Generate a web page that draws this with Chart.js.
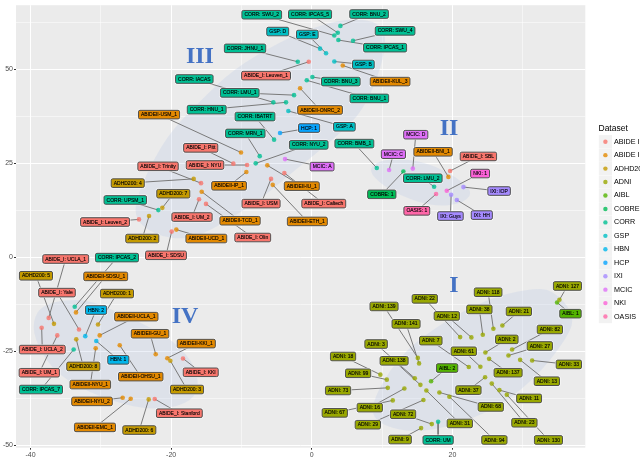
<!DOCTYPE html>
<html>
<head>
<meta charset="utf-8">
<script src="https://cdn.jsdelivr.net/npm/chart.js@4"></script>
<style>
  html, body { margin: 0; padding: 0; background: #fff; }
  #wrap { width: 640px; height: 457px; position: relative; overflow: hidden; }
</style>
</head>
<body>
<div id="wrap"><canvas id="tsne"></canvas></div>
<script>
var datasetNames = ['ABIDE I','ABIDE II','ADHD200','ADNI','AIBL','COBRE','CORR','GSP','HBN','HCP','IXI','MCIC','NKI','OASIS'];
var datasetColors = ['#F8766D','#E38900','#C49A00','#99A800','#53B400','#00BC56','#00C094','#00BFC4','#00B6EB','#06A4FF','#A58AFF','#DF70F8','#FB61D7','#FF66A8'];

var xTicks = [-40,-30,-20,-10,0,10,20,30];
var yTicks = [-50,-37.5,-25,-12.5,0,12.5,25,37.5,50,62.5];
var majorX = [-40,-20,0,20];
var majorY = [-50,-25,0,25,50];

// cluster III, II, IV, I
var sampleNames = [
  'CORR: SWU_2','CORR: IPCAS_5','CORR: BNU_2','CORR: SWU_4','CORR: IPCAS_1','GSP: D','GSP: E','CORR: JHNU_1','ABIDE_I: Leuven_1','GSP: B','ABIDEII-KUL_3','CORR: BNU_3','CORR: BNU_1','ABIDEII-ONRC_2','GSP: A','HCP: 1','CORR: IACAS','CORR: LMU_1','CORR: HNU_1','ABIDEII-USM_1','CORR: IBATRT','CORR: MRN_1','CORR: NYU_2','MCIC: A','ABIDE_I: Pitt','ABIDE_I: NYU','ABIDE_I: Trinity','ADHD200: 4','ADHD200: 7','CORR: UPSM_1','ABIDE_I: Leuven_2','ABIDEII-IP_1','ABIDEII-IU_1','ABIDE_I: Caltech','ABIDE_I: USM','ABIDEII-ETH_1','ABIDE_I: UM_2','ABIDEII-TCD_1','ABIDE_I: Olin','ADHD200: 2','ABIDEII-UCD_1','ABIDE_I: SDSU',
  'CORR: BMB_1','MCIC: D','MCIC: C','ABIDEII-BNI_1','ABIDE_I: SBL','NKI: 1','IXI: IOP','COBRE: 1','CORR: LMU_2','OASIS: 1','IXI: Guys','IXI: HH',
  'ABIDE_I: UCLA_1','CORR: IPCAS_2','ABIDEII-SDSU_1','ADHD200: 5','ABIDE_I: Yale','ADHD200: 1','HBN: 2','ABIDEII-UCLA_1','ABIDEII-GU_1','ABIDEII-KKI_1','ABIDE_I: KKI','ADHD200: 3','ABIDEII-OHSU_1','HBN: 1','ADHD200: 8','ABIDEII-NYU_1','ABIDE_I: UCLA_2','ABIDE_I: UM_1','CORR: IPCAS_7','ABIDEII-NYU_2','ABIDEII-EMC_1','ADHD200: 6','ABIDE_I: Stanford',
  'ADNI: 127','AIBL: 1','ADNI: 118','ADNI: 38','ADNI: 21','ADNI: 22','ADNI: 12','ADNI: 139','ADNI: 141','ADNI: 82','ADNI: 2','ADNI: 27','ADNI: 7','ADNI: 61','ADNI: 3','ADNI: 138','ADNI: 137','ADNI: 13','ADNI: 33','ADNI: 18','ADNI: 99','ADNI: 73','AIBL: 2','ADNI: 37','ADNI: 11','ADNI: 68','ADNI: 16','ADNI: 67','ADNI: 72','ADNI: 29','ADNI: 31','ADNI: 23','ADNI: 9','CORR: UM','ADNI: 94','ADNI: 130'
];
var pointX = [
  3.21,3.70,4.07,5.87,3.78,1.18,2.03,-1.99,-0.43,3.21,4.41,0.09,-0.71,-1.66,-3.33,-4.51,-5.46,-2.52,-3.66,-10.06,-5.36,-7.40,-7.97,-3.80,-11.15,-9.20,-15.75,-16.79,-21.25,-21.82,-24.57,-9.30,-6.32,-3.90,-5.79,-5.55,-16.03,-15.65,-15.04,-23.14,-19.26,-19.92,
  9.25,14.37,11.00,19.43,19.67,19.20,21.57,13.03,17.40,17.68,19.82,20.63,
  -37.41,-33.71,-33.53,-36.66,-33.10,-30.40,-32.21,-30.16,-22.19,-20.54,-18.31,-20.11,-27.31,-30.64,-33.49,-30.73,-38.41,-36.19,-33.86,-26.89,-25.75,-23.19,-22.33,
  35.22,34.89,25.83,24.32,27.11,21.10,22.70,15.08,15.26,28.49,24.69,27.97,22.33,23.98,14.65,15.45,25.22,29.63,31.34,9.76,10.67,10.81,16.97,24.65,26.69,18.15,13.17,11.52,17.07,15.88,16.30,25.60,15.55,17.97,19.57,27.74
];
var pointY = [
  58.95,59.66,61.50,57.55,57.74,55.45,54.22,51.96,51.96,52.03,50.98,47.91,47.04,44.94,38.89,33.03,41.18,43.10,41.18,27.86,31.27,26.88,24.97,26.10,24.89,24.52,19.71,20.84,13.14,12.54,10.07,22.68,24.44,22.42,20.84,19.26,15.43,17.42,14.19,10.96,7.36,6.83,
  23.73,23.57,23.21,21.37,22.94,17.69,18.66,22.78,18.74,16.82,16.64,15.24,
  -16.11,-13.14,-14.64,-17.69,-19.18,-17.87,-20.95,-20.76,-25.75,-26.81,-26.88,-27.51,-23.39,-22.26,-21.81,-24.18,-18.74,-20.76,-24.52,-37.32,-37.58,-37.76,-37.66,
  -11.30,-12.01,-19.00,-20.58,-18.13,-21.21,-21.29,-26.73,-28.20,-24.52,-25.31,-26.10,-29.17,-29.09,-32.14,-33.90,-26.99,-27.25,-27.41,-31.19,-32.51,-34.69,-32.93,-31.88,-35.29,-35.92,-34.87,-38.03,-44.33,-37.92,-35.40,-33.56,-45.39,-43.70,-37.05,-36.53
];
var labelX = [
  -7.11,-0.24,8.15,11.85,10.43,-4.84,-0.63,-9.49,-6.50,7.34,11.14,4.13,8.19,1.18,4.64,-0.38,-16.70,-10.24,-14.94,-21.72,-8.07,-9.45,-0.43,1.47,-15.79,-15.18,-21.86,-26.17,-19.69,-26.52,-29.40,-11.76,-1.42,1.71,-7.21,-0.63,-17.03,-10.20,-8.39,-24.10,-14.99,-20.73,
  6.06,14.79,11.61,17.25,23.70,23.94,26.64,9.96,15.79,14.94,19.72,24.18,
  -34.99,-27.70,-29.30,-39.22,-36.23,-27.70,-30.68,-24.95,-23.00,-16.42,-15.79,-17.74,-24.32,-27.51,-32.49,-31.49,-38.32,-38.75,-38.51,-31.25,-30.83,-24.52,-18.83,
  36.36,36.79,25.08,23.84,29.45,16.07,19.20,10.28,13.41,33.86,27.74,32.43,16.93,21.62,9.15,11.71,27.92,33.43,36.56,4.45,6.59,3.74,19.25,22.28,30.91,25.46,8.25,3.27,12.99,7.97,21.05,30.24,12.56,17.97,25.97,33.66
];
var labelY = [
  64.47,64.57,64.65,60.18,55.71,60.00,59.21,55.53,48.28,51.25,46.70,46.70,42.23,39.16,34.69,34.35,47.38,43.70,39.24,37.92,37.40,32.93,29.88,24.10,29.09,24.52,24.18,19.71,16.90,15.24,9.38,19.00,18.92,14.27,14.27,9.54,10.70,9.72,5.26,4.99,4.99,0.53,
  30.22,32.59,27.41,28.04,26.81,22.26,17.61,16.74,21.02,12.35,10.96,11.22,
  -0.45,-0.08,-5.07,-4.91,-9.38,-9.64,-14.01,-15.77,-20.31,-22.94,-30.56,-35.14,-31.72,-27.25,-28.99,-33.82,-24.52,-30.67,-35.14,-38.29,-45.20,-45.91,-41.44,
  -7.62,-14.98,-9.28,-13.85,-14.38,-11.04,-15.58,-13.06,-17.69,-19.18,-21.81,-23.57,-22.15,-24.97,-23.05,-27.51,-30.67,-32.93,-28.46,-26.36,-30.83,-35.40,-29.43,-35.29,-37.50,-39.76,-39.95,-41.34,-41.71,-44.49,-44.15,-43.97,-48.43,-48.54,-48.54,-48.54
];

// shaded regions behind the clusters, as x,y outlines
var blobOne = [[34.33,-8.41],[37.45,-15.5],[36.32,-21.55],[31.48,-32.85],[24.94,-41.79],[15.41,-47.04],[9.29,-44.41],[8.29,-39.16],[12.13,-26.81],[17.82,-18.13],[24.94,-11.04],[30.63,-8.41]];
var blobTwo = [[8.0,23.65],[10.43,26.28],[15.41,25.75],[19.67,22.34],[22.94,17.87],[21.8,14.45],[17.54,13.4],[12.56,16.29],[9.29,20.24]];
var blobThree = [[-25.56,11.04],[-24.0,20.5],[-20.58,32.32],[-16.32,40.73],[-11.2,49.93],[-4.51,57.29],[1.18,61.76],[5.87,63.6],[9.72,62.28],[10.71,57.82],[9.43,47.83],[7.16,38.89],[4.45,33.64],[1.18,28.38],[-2.09,23.65],[-7.07,15.77],[-13.04,8.41],[-17.74,4.47],[-22.57,6.04]];
var blobFour = [[-39.79,-17.08],[-38.22,-12.35],[-32.53,-10.77],[-27.7,-14.45],[-20.58,-20.76],[-16.88,-27.59],[-15.89,-34.69],[-17.74,-39.16],[-23.0,-40.73],[-30.11,-37.32],[-36.23,-31.27],[-39.08,-23.39]];

var clusterNames = ['I','II','III','IV'];
var clusterX = [20.23,19.53,-15.9,-18.02];
var clusterY = [-7.62,34.16,53.35,-15.77];

function groupOf(name) {
  if (name.indexOf('ABIDE_I:') === 0) return 'ABIDE I';
  if (name.indexOf('ABIDEII') === 0) return 'ABIDE II';
  return name.split(':')[0];
}

var datasets = [];
datasetNames.forEach(function(group, g) {
  var pts = [];
  sampleNames.forEach(function(name, i) {
    if (groupOf(name) === group) pts.push({x: pointX[i], y: pointY[i]});
  });
  datasets.push({
    label: group,
    data: pts,
    backgroundColor: datasetColors[g] + 'CC',
    borderWidth: 0,
    pointRadius: 2.3,
    order: 1
  });
});

var segments = [];
sampleNames.forEach(function(name, i) {
  segments.push({x: pointX[i], y: pointY[i]});
  segments.push({x: labelX[i], y: labelY[i]});
  segments.push({x: null, y: null});
});
datasets.push({
  type: 'line',
  label: 'connectors',
  data: segments,
  borderColor: '#7a7a7a',
  borderWidth: 1,
  pointRadius: 0,
  spanGaps: false,
  order: 2
});

function drawBlob(ctx, chart, outline) {
  var sx = chart.scales.x, sy = chart.scales.y;
  var p = outline.map(function(o) { return [sx.getPixelForValue(o[0]), sy.getPixelForValue(o[1])]; });
  var n = p.length;
  ctx.beginPath();
  ctx.moveTo((p[n-1][0] + p[0][0]) / 2, (p[n-1][1] + p[0][1]) / 2);
  for (var i = 0; i < n; i++) {
    var q = p[(i + 1) % n];
    ctx.quadraticCurveTo(p[i][0], p[i][1], (p[i][0] + q[0]) / 2, (p[i][1] + q[1]) / 2);
  }
  ctx.closePath();
  ctx.fill();
}

var blobPlugin = {
  id: 'blobs',
  beforeDraw: function(chart) {
    var a = chart.chartArea;
    chart.ctx.fillStyle = '#ebebeb';
    chart.ctx.fillRect(a.left, a.top, a.right - a.left, a.bottom - a.top);
  },
  beforeDatasetsDraw: function(chart) {
    var ctx = chart.ctx;
    ctx.save();
    ctx.fillStyle = 'rgba(185,200,230,0.27)';
    [blobOne, blobTwo, blobThree, blobFour].forEach(function(b) { drawBlob(ctx, chart, b); });
    ctx.restore();
  }
};

var labelPlugin = {
  id: 'sampleLabels',
  afterDatasetsDraw: function(chart) {
    var ctx = chart.ctx, sx = chart.scales.x, sy = chart.scales.y;
    ctx.save();
    ctx.font = '5px "Liberation Sans"';
    ctx.textAlign = 'center';
    ctx.textBaseline = 'middle';
    sampleNames.forEach(function(name, i) {
      var cx = sx.getPixelForValue(labelX[i]), cy = sy.getPixelForValue(labelY[i]);
      var w = ctx.measureText(name).width + 5, h = 8.6;
      var col = datasetColors[datasetNames.indexOf(groupOf(name))];
      ctx.beginPath();
      ctx.roundRect(cx - w / 2, cy - h / 2, w, h, 1.5);
      ctx.strokeStyle = 'rgba(255,255,255,0.75)';
      ctx.lineWidth = 2.2;
      ctx.stroke();
      ctx.fillStyle = col;
      ctx.fill();
      ctx.strokeStyle = '#4d4d4d';
      ctx.lineWidth = 1;
      ctx.stroke();
      ctx.fillStyle = '#000';
      ctx.strokeStyle = 'rgba(0,0,0,0.55)';
      ctx.lineWidth = 0.2;
      ctx.fillText(name, cx, cy + 0.2);
      ctx.strokeText(name, cx, cy + 0.2);
    });
    ctx.font = 'bold 24px "Liberation Serif"';
    ctx.fillStyle = '#4472C4';
    clusterNames.forEach(function(n, i) {
      ctx.fillText(n, sx.getPixelForValue(clusterX[i]), sy.getPixelForValue(clusterY[i]));
    });
    ctx.restore();
  }
};

var legendPlugin = {
  id: 'sideLegend',
  afterDraw: function(chart) {
    var ctx = chart.ctx;
    ctx.save();
    ctx.textBaseline = 'middle';
    ctx.textAlign = 'left';
    ctx.fillStyle = '#000';
    ctx.font = '8.5px "Liberation Sans"';
    ctx.fillText('Dataset', 598.5, 128.5);
    ctx.font = '7.2px "Liberation Sans"';
    datasetNames.forEach(function(name, i) {
      var y = 141.7 + i * 13.45;
      ctx.fillStyle = '#f2f2f2';
      ctx.fillRect(598.8, y - 6.6, 13.2, 13.2);
      ctx.beginPath();
      ctx.arc(605.4, y, 2.2, 0, Math.PI * 2);
      ctx.fillStyle = datasetColors[i] + 'CC';
      ctx.fill();
      ctx.fillStyle = '#000';
      ctx.fillText(name, 614, y);
    });
    ctx.restore();
  }
};

new Chart(document.getElementById('tsne'), {
  type: 'scatter',
  data: { datasets: datasets },
  plugins: [blobPlugin, labelPlugin, legendPlugin],
  options: {
    responsive: true,
    maintainAspectRatio: false,
    animation: false,
    layout: { padding: { top: 0, left: 0, right: 54.7, bottom: 0 } },
    plugins: { legend: { display: false }, tooltip: { enabled: false } },
    scales: {
      x: {
        type: 'linear',
        min: -42.06,
        max: 38.9,
        afterBuildTicks: function(s) { s.ticks = xTicks.map(function(v) { return {value: v}; }); },
        afterFit: function(s) { s.height = 9.3; },
        border: { display: false },
        grid: {
          color: '#fff',
          lineWidth: function(c) { return majorX.indexOf(c.tick.value) >= 0 ? 1 : 0.5; },
          tickLength: 2,
          tickColor: function(c) { return majorX.indexOf(c.tick.value) >= 0 ? '#333' : 'rgba(0,0,0,0)'; }
        },
        ticks: {
          autoSkip: false,
          maxRotation: 0,
          padding: 1,
          color: '#4d4d4d',
          font: { family: 'Liberation Sans', size: 7 },
          callback: function(v) { return majorX.indexOf(v) >= 0 ? String(v) : ''; }
        }
      },
      y: {
        type: 'linear',
        min: -50.6,
        max: 67,
        afterBuildTicks: function(s) { s.ticks = yTicks.map(function(v) { return {value: v}; }); },
        afterFit: function(s) { s.width = 16; },
        border: { display: false },
        grid: {
          color: '#fff',
          lineWidth: function(c) { return majorY.indexOf(c.tick.value) >= 0 ? 1 : 0.5; },
          tickLength: 2,
          tickColor: function(c) { return majorY.indexOf(c.tick.value) >= 0 ? '#333' : 'rgba(0,0,0,0)'; }
        },
        ticks: {
          autoSkip: false,
          padding: 1,
          color: '#4d4d4d',
          font: { family: 'Liberation Sans', size: 7 },
          callback: function(v) { return majorY.indexOf(v) >= 0 ? String(v) : ''; }
        }
      }
    }
  }
});
</script>
</body>
</html>
